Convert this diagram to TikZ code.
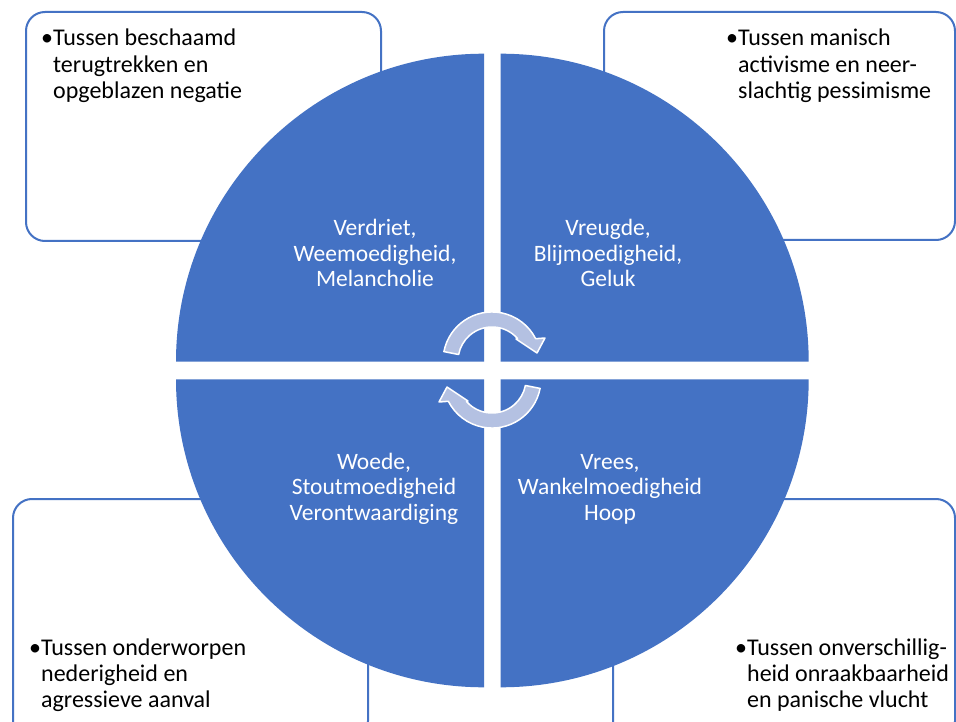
\documentclass[tikz,border=0pt]{standalone}
\usepackage{fontspec}
\setmainfont{Carlito}
\definecolor{accblue}{RGB}{68,114,196}
\definecolor{arrowfill}{RGB}{180,193,226}
\begin{document}
\begin{tikzpicture}[x=1pt,y=-1pt,
  box/.style={draw=accblue, line width=2pt, rounded corners=19pt, fill=white},
  quad/.style={fill=accblue},
  qtext/.style={text=white, font=\fontsize{23.5}{25.5}\selectfont, inner sep=0pt, anchor=base},
  btext/.style={text=black, font=\fontsize{24}{26.2}\selectfont, inner sep=0pt, anchor=base west},
  cyc/.style={fill=arrowfill, draw=white, line width=1.5pt, line join=round}]
\useasboundingbox (0,0) rectangle (956,722);
\clip (0,0) rectangle (956,722);
\fill[white] (0,0) rectangle (956,722);
% corner boxes
\draw[box] (26,12) rectangle (381,241);
\draw[box] (604,12) rectangle (955,240);
\draw[box] (13,499) rectangle (368,740);
\draw[box] (613,499) rectangle (955,740);
% quadrants
\fill[quad] (484,361.7) -- (176,361.7) arc[start angle=180, end angle=270, radius=308] -- cycle;
\fill[quad] (500.7,361.7) -- (500.7,53.7) arc[start angle=270, end angle=360, radius=308] -- cycle;
\fill[quad] (500.7,379.3) -- (808.7,379.3) arc[start angle=0, end angle=90, radius=308] -- cycle;
\fill[quad] (484,379.3) -- (484,687.3) arc[start angle=90, end angle=180, radius=308] -- cycle;
% cycle arrows
\filldraw[cyc] (458.6,354.5) -- (443.9,351.6) arc[start angle=-169, end angle=-27, radius=49]
  -- (545,338) -- (537,353) -- (516,339) -- (517.5,338.5)
  arc[start angle=-41.4, end angle=-169, radius=34] -- cycle;
\filldraw[cyc, rotate around={180:(492,370)}] (458.6,354.5) -- (443.9,351.6) arc[start angle=-169, end angle=-27, radius=49]
  -- (545,338) -- (537,353) -- (516,339) -- (517.5,338.5)
  arc[start angle=-41.4, end angle=-169, radius=34] -- cycle;
% quadrant texts
\node[qtext] (q1) at (375,236) {\begin{tabular}[t]{@{}c@{}}Verdriet,\\Weemoedigheid,\\Melancholie\end{tabular}};
\node[qtext] (q2) at (608,236) {\begin{tabular}[t]{@{}c@{}}Vreugde,\\Blijmoedigheid,\\Geluk\end{tabular}};
\node[qtext] (q3) at (374,469) {\begin{tabular}[t]{@{}c@{}}Woede,\\Stoutmoedigheid\\Verontwaardiging\end{tabular}};
\node[qtext] (q4) at (610,469) {\begin{tabular}[t]{@{}c@{}}Vrees,\\Wankelmoedigheid\\Hoop\end{tabular}};
% box texts
\node[btext] (b1) at (41,46) {\begin{tabular}[t]{@{}l@{}l@{}}•&Tussen beschaamd\\&terugtrekken en\\&opgeblazen negatie\end{tabular}};
\node[btext] (b2) at (726,46) {\begin{tabular}[t]{@{}l@{}l@{}}•&Tussen manisch\\&activisme en neer-\\&slachtig pessimisme\end{tabular}};
\node[btext] (b3) at (29,655) {\begin{tabular}[t]{@{}l@{}l@{}}•&Tussen onderworpen\\&nederigheid en\\&agressieve aanval\end{tabular}};
\node[btext] (b4) at (735,655.5) {\begin{tabular}[t]{@{}l@{}l@{}}•&Tussen onverschillig-\\&heid onraakbaarheid\\&en panische vlucht\end{tabular}};
\end{tikzpicture}
\end{document}
